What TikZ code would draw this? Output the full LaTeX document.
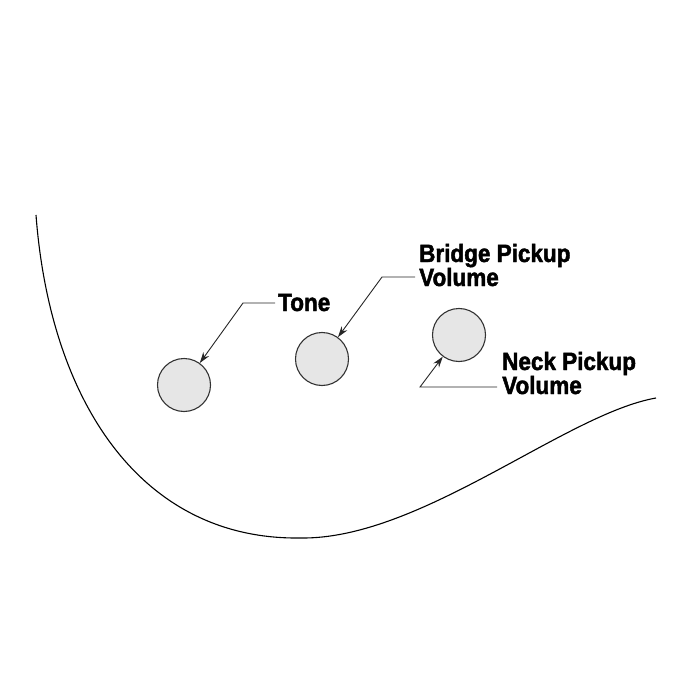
\documentclass[tikz,border=0pt]{standalone}
\usepackage{fontspec}
\usetikzlibrary{arrows.meta,positioning}
\newfontfamily\labelfont{Liberation Sans}[FakeStretch=0.9,BoldFeatures={FakeBold=1.8}]
\definecolor{knobgray}{HTML}{E6E6E6}
\definecolor{rimgray}{HTML}{333333}
\tikzset{
  knob/.style={circle,draw=rimgray,fill=knobgray,line width=1.1pt,minimum size=53pt,inner sep=0pt},
  lbl/.style={anchor=base west,inner sep=0pt,align=left,font=\labelfont\bfseries\fontsize{25}{24}\selectfont},
  leader/.style={draw=black!85,line width=0.9pt,-{Stealth[length=11pt,width=7pt]}}
}

\begin{document}
\begin{tikzpicture}[x=1pt,y=-1pt]
\useasboundingbox (0,0) rectangle (700,700);
% body outline
\draw[line width=1.1pt] (36,215) .. controls (50,400) and (140,540) .. (300,538)
  .. controls (420,540) and (565,414) .. (656,398);
% knobs
\node[knob] (toneknob) at (184,385) {};
\node[knob] (bridgeknob) at (322,359) {};
\node[knob] (neckknob) at (459,335) {};
% labels
\node[lbl] (tonelbl) at (278,311) {Tone};
\node[lbl] (bridgelbl) at (419,286) {Bridge Pickup\\Volume};
\node[lbl] (necklbl) at (502,394) {Neck Pickup\\Volume};
% leaders
\coordinate (tonebend) at (243,303);
\coordinate (bridgebend) at (382,277);
\coordinate (neckbend) at (420,387);
\draw[leader] (tonebend -| tonelbl.west) ++(-3,0) -- (tonebend) -- (toneknob);
\draw[leader] (bridgebend -| bridgelbl.west) ++(-4,0) -- (bridgebend) -- (bridgeknob);
\draw[leader] (neckbend -| necklbl.west) ++(-5,0) -- (neckbend) -- (neckknob);
\end{tikzpicture}
\end{document}
